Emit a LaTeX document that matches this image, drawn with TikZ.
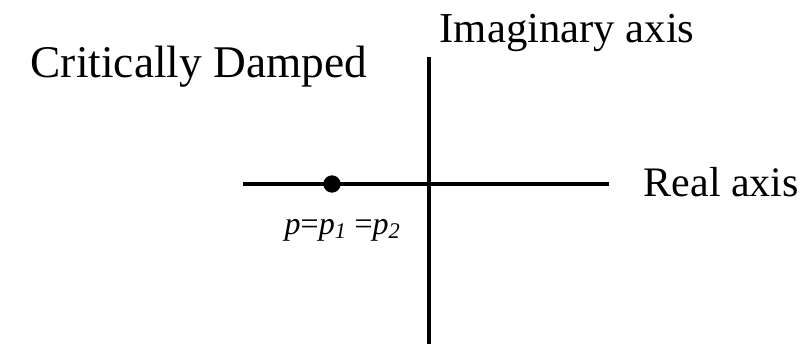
\documentclass[tikz,border=0pt]{standalone}
\usepackage{fontspec}
\setmainfont{Liberation Serif}
\usetikzlibrary{positioning}

\begin{document}
\begin{tikzpicture}[x=0.75pt,y=-0.75pt,line width=2.6pt]
\useasboundingbox (0,0) rectangle (806,344);
\coordinate (rl) at (243,184);
\coordinate (rr) at (609,184);
\coordinate (it) at (429,57);
\coordinate (ib) at (429,344);
\draw (rl)--(rr);
\draw (it)--(ib);
\node[shape=circle,fill=black,inner sep=0pt,minimum size=13pt] (pole) at (332,184) {};
\node[anchor=base west,inner sep=0pt,font=\fontsize{34}{40}\selectfont] (title) at (29,77) {Critically Damped};
\node[anchor=base west,inner sep=0pt,font=\fontsize{32}{38}\selectfont] (im) at (438,42) {Imaginary axis};
\node[anchor=base west,inner sep=0pt,font=\fontsize{31.5}{38}\selectfont] (re) at (642,196) {Real axis};
\node[anchor=base west,inner sep=0pt,font=\fontsize{24}{28}\selectfont] (plbl) at (283,234)
  {\textit{p}=\textit{p}\textsubscript{\textit{1}} =\textit{p}\textsubscript{\textit{2}}};
\end{tikzpicture}
\end{document}
